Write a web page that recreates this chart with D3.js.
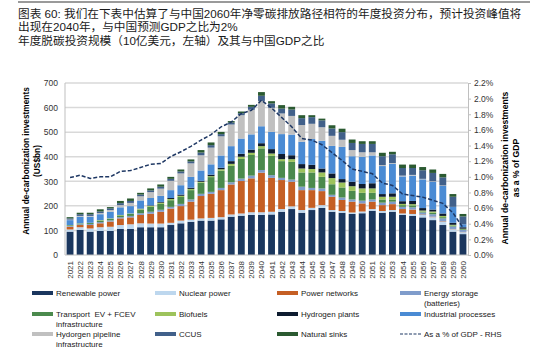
<!DOCTYPE html>
<html><head><meta charset="utf-8">
<script src="https://cdn.jsdelivr.net/npm/d3@7/dist/d3.min.js"></script>
<style>body{margin:0;background:#fff}svg{display:block}</style>
</head><body><svg id="c" width="539" height="361"></svg>
<script>
const years = ["2021","2022","2023","2024","2025","2026","2027","2028","2029","2030","2031","2032","2033","2034","2035","2036","2037","2038","2039","2040","2041","2042","2043","2044","2045","2046","2047","2048","2049","2050","2051","2052","2053","2054","2055","2056","2057","2058","2059","2060"];
const renewable = [95,102,95,98,98,106,106,113,113,113, 122,129,135,140,140,145,156,160,163,163, 165,176,187,172,183,192,176,172,167,170, 180,172,176,163,159,153,142,122,95,85];
const nuclear = [9,11,13,15,17,16,19,16,15,15, 9,11,9,9,11,9,9,9,11,11, 11,11,11,11,9,11,7,7,6,7, 7,7,7,6,8,10,12,13,10,8];
const powerNetworks = [11,9,14,16,21,27,28,34,40,48, 58,59,73,91,98,110,122,132,138,161, 138,118,100,81,72,57,54,45,44,33, 30,24,24,18,18,2,2,2,1,1];
const energyStorage = [3,3,4,5,5,5,6,7,8,8, 7,9,9,9,8,9,9,10,11,11, 11,9,9,14,9,11,8,10,9,11, 9,10,10,9,9,8,10,12,10,8];
const transport = [3,3,4,6,6,7,8,15,20,24, 27,28,38,45,60,70,67,80,84,88, 79,68,72,58,63,47,43,41,35,32, 27,13,9,7,8,4,6,5,4,3];
const biofuels = [1,1,1,2,2,2,2,3,4,5, 5,5,5,4,4,6,8,9,9,9, 9,8,11,16,14,18,25,20,19,18, 18,11,11,5,5,4,5,5,3,2];
const hydrogenPlants = [0,0,0,0,0,0,0,1,2,3, 4,5,5,4,6,6,11,12,13,12, 18,21,16,18,17,16,19,14,18,18, 21,11,14,11,13,10,8,10,8,6];
const industrial = [20,27,25,24,27,31,30,33,30,25, 32,38,44,42,42,50,61,62,62,69, 70,81,84,91,105,113,112,131,104,111, 113,114,120,101,103,117,113,112,65,12];
const h2Pipeline = [2,3,3,5,7,9,13,17,24,29, 38,48,55,62,68,78,88,95,100,103, 98,84,76,68,62,55,41,29,25,18, 13,4,3,3,3,2,2,2,0,0];
const ccus = [5,7,7,6,7,8,8,7,7,8, 8,8,8,11,10,9,8,8,12,21, 18,20,26,28,27,28,30,31,29,34, 34,36,36,31,28,35,34,33,41,32];
const naturalSinks = [5,6,6,9,5,9,10,7,8,9, 8,8,8,10,11,9,6,7,8,15, 9,14,11,12,8,7,13,14,14,11, 11,14,10,14,14,13,14,14,11,10];
const gdpShare = [0.99,1.02,0.98,1.00,1.00,1.07,1.08,1.12,1.16,1.17, 1.26,1.32,1.39,1.47,1.54,1.64,1.70,1.81,1.85,1.98, 1.88,1.76,1.64,1.49,1.47,1.41,1.31,1.21,1.10,1.07, 1.04,0.92,0.89,0.78,0.76,0.74,0.70,0.66,0.54,0.35];
const leftTicks = [0,100,200,300,400,500,600,700];
const rightTicks = [0,0.2,0.4,0.6,0.8,1.0,1.2,1.4,1.6,1.8,2.0,2.2];
const seriesNames = ["Renewable power","Nuclear power","Power networks","Energy storage (batteries)","Transport  EV + FCEV infrastructure","Biofuels","Hydrogen plants","Industrial processes","Hydorgen pipeline infrastructure","CCUS","Natural sinks"];
const lineName = "As a % of GDP - RHS";
const titleLines = ["图表 60: 我们在下表中估算了与中国2060年净零碳排放路径相符的年度投资分布，预计投资峰值将","出现在2040年，与中国预测GDP之比为2%","年度脱碳投资规模（10亿美元，左轴）及其与中国GDP之比"];

const seriesData = [renewable,nuclear,powerNetworks,energyStorage,transport,biofuels,hydrogenPlants,industrial,h2Pipeline,ccus,naturalSinks];
const colors = ["#1a365e","#bdd7ee","#c55f24","#7f9ccb","#4b8a4d","#9dc35c","#0e1c30","#4a8bd4","#c0c0c0","#41608a","#2b5a31"];
const lineColor = "#1f3864";

const svg = d3.select("#c");
const font = "'Liberation Sans', Arial, 'Noto Sans CJK SC', sans-serif";
const cjk = "'Liberation Sans', 'Noto Sans CJK SC', sans-serif";

// top rule
svg.append("line").attr("x1",18).attr("x2",530).attr("y1",2).attr("y2",2).attr("stroke","#9a9a9a").attr("stroke-width",2);
// titles: size chosen so the first line spans the same width as the reference
const ty = [18,31,45];
const tnodes = titleLines.map((t,i)=>svg.append("text").attr("x",18).attr("y",ty[i]).attr("font-family",cjk).attr("font-size",12).attr("fill","#1a1a1a").text(t));
const w1 = tnodes[0].node().getComputedTextLength();
const fs = Math.min(12, 12*504/w1);
tnodes.forEach(n=>n.attr("font-size",fs));

const X0=65, X1=468, Y0=255, Y1=83;
const x = d3.scaleBand().domain(years).range([X0,X1]).paddingInner(0.32).paddingOuter(0.16);
const y = d3.scaleLinear().domain([0,700]).range([Y0,Y1]);
const y2 = d3.scaleLinear().domain([0,2.2]).range([Y0,Y1]);

// grid
svg.append("g").selectAll("line").data(leftTicks.filter(d=>d>0)).join("line")
  .attr("x1",X0).attr("x2",X1).attr("y1",d=>y(d)).attr("y2",d=>y(d))
  .attr("stroke","#d9d9d9").attr("stroke-width",1.5);

// stacked bars
const rows = years.map((yr,i)=>{const o={year:yr}; seriesData.forEach((s,k)=>o["s"+k]=s[i]); return o;});
const keys = seriesData.map((s,k)=>"s"+k);
const stacked = d3.stack().keys(keys)(rows);
svg.append("g").selectAll("g").data(stacked).join("g").attr("fill",(d,i)=>colors[i])
  .selectAll("rect").data(d=>d).join("rect")
  .attr("x",d=>x(d.data.year)).attr("width",x.bandwidth())
  .attr("y",d=>y(d[1])).attr("height",d=>Math.max(0,y(d[0])-y(d[1])));

// axes lines
svg.append("line").attr("x1",X0).attr("x2",X0).attr("y1",Y1).attr("y2",Y0).attr("stroke","#bfbfbf").attr("stroke-width",1);
svg.append("line").attr("x1",X0).attr("x2",X1).attr("y1",Y0).attr("y2",Y0).attr("stroke","#bfbfbf").attr("stroke-width",1);

// left axis
const la = svg.append("g").attr("transform",`translate(${X0},0)`).call(d3.axisLeft(y).tickValues(leftTicks).tickSize(0).tickPadding(7));
la.select(".domain").remove();
la.selectAll("text").attr("font-family",font).attr("font-size",8.5).attr("fill","#333");

// right axis
const ra = svg.append("g").attr("transform",`translate(${X1},0)`).call(d3.axisRight(y2).tickValues(rightTicks).tickSize(3).tickPadding(3).tickFormat(d=>d.toFixed(1)+"%"));
ra.select(".domain").attr("stroke","#bfbfbf");
ra.selectAll(".tick line").attr("stroke","#bfbfbf");
ra.selectAll("text").attr("font-family",font).attr("font-size",8.5).attr("fill","#333");

// x labels
svg.append("g").selectAll("text").data(years).join("text")
  .attr("transform",d=>`translate(${x(d)+x.bandwidth()/2+3},261) rotate(-90)`)
  .attr("text-anchor","end").attr("font-family",font).attr("font-size",8).attr("fill","#333").text(d=>d);

// line
const line = d3.line().x((d,i)=>x(years[i])+x.bandwidth()/2).y(d=>y2(d));
svg.append("path").datum(gdpShare).attr("d",line).attr("fill","none").attr("stroke",lineColor).attr("stroke-width",1.5).attr("stroke-dasharray","4,2");

// axis titles
const lt = svg.append("g").attr("transform","translate(0,161)");
lt.append("text").attr("transform","translate(29,0) rotate(-90)").attr("text-anchor","middle").attr("font-family",font).attr("font-weight","bold").attr("font-size",8.3).text("Annual de-carbonization investments");
lt.append("text").attr("transform","translate(40,0) rotate(-90)").attr("text-anchor","middle").attr("font-family",font).attr("font-weight","bold").attr("font-size",8.3).text("(US$bn)");
const rt = svg.append("g").attr("transform","translate(0,168)");
rt.append("text").attr("transform","translate(508,0) rotate(-90)").attr("text-anchor","middle").attr("font-family",font).attr("font-weight","bold").attr("font-size",8.6).text("Annual de-carbonization investments");
rt.append("text").attr("transform","translate(519,0) rotate(-90)").attr("text-anchor","middle").attr("font-family",font).attr("font-weight","bold").attr("font-size",8.6).text("as a % of GDP");

// legend
const colX = [32,155,277,400];
const rowY = [293,314,334];
const wraps = {"Energy storage (batteries)":["Energy storage","(batteries)"],"Transport  EV + FCEV infrastructure":["Transport  EV + FCEV","infrastructure"],"Hydorgen pipeline infrastructure":["Hydorgen pipeline","infrastructure"]};
const items = seriesNames.map((n,i)=>({name:n,color:colors[i],type:"bar"})).concat([{name:lineName,color:lineColor,type:"line"}]);
items.forEach((it,i)=>{
  const cx = colX[i%4], cy = rowY[Math.floor(i/4)];
  const g = svg.append("g");
  if(it.type==="bar"){
    g.append("rect").attr("x",cx).attr("y",cy-2).attr("width",21).attr("height",4).attr("fill",it.color);
  } else {
    g.append("line").attr("x1",cx).attr("x2",cx+21).attr("y1",cy).attr("y2",cy).attr("stroke",it.color).attr("stroke-width",1.2).attr("stroke-dasharray","3,1.5");
  }
  const lines = wraps[it.name] || [it.name];
  lines.forEach((l,j)=>{
    g.append("text").attr("x",cx+24).attr("y",cy+3+j*9.5).attr("font-family",font).attr("font-size",8).attr("fill","#1a1a1a").style("white-space","pre").text(l);
  });
});
</script></body></html>
